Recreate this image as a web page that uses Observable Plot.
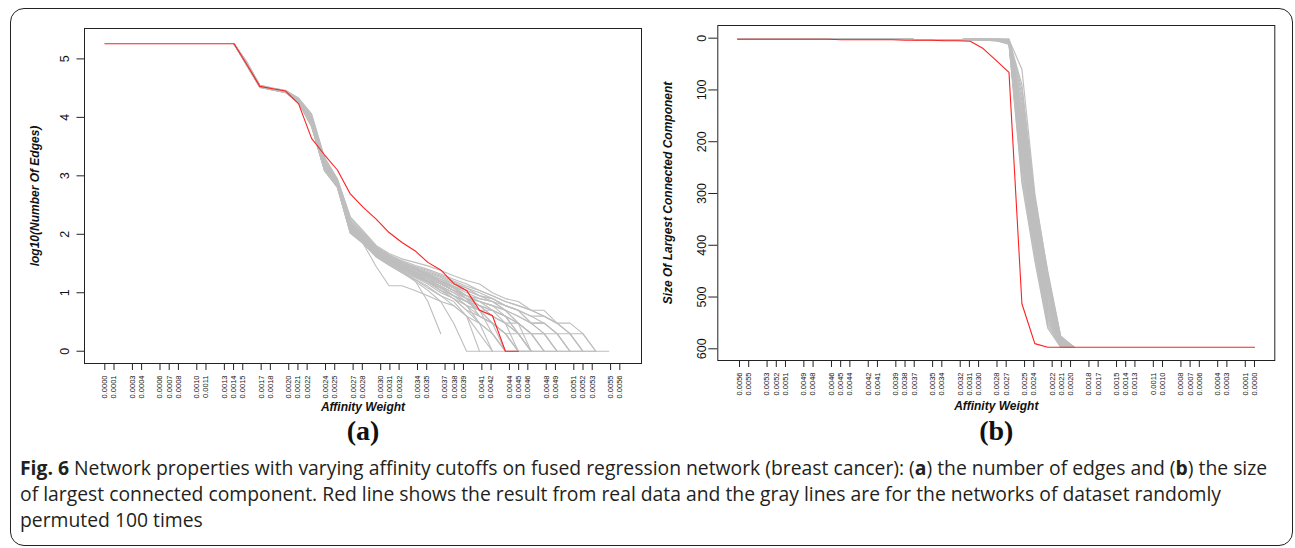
<!DOCTYPE html>
<html><head><meta charset="utf-8">
<script src="https://cdn.jsdelivr.net/npm/d3@7"></script>
<script src="https://cdn.jsdelivr.net/npm/@observablehq/plot@0.6"></script>
<style>
body{margin:0;background:#fff;}
#root{position:relative;width:1295px;height:548px;overflow:hidden;background:#fff;}
#border{position:absolute;left:10px;top:8px;width:1283px;height:538px;box-sizing:border-box;border:1.5px solid #222;border-radius:14px;}
#pa{position:absolute;left:0;top:0;}
#pb{position:absolute;left:633px;top:0;}
#cap{position:absolute;left:20px;top:455px;font-family:"Open Sans",sans-serif;font-size:16.5px;line-height:26px;color:#231f20;white-space:nowrap;}
#cap b{font-weight:700;}
</style></head>
<body>
<div id="root">
<div id="border"></div>
<div id="pa"></div>
<div id="pb"></div>
<div id="cap">
<div id="cap1"><span id="cap1s"><b>Fig. 6</b> Network properties with varying affinity cutoffs on fused regression network (breast cancer): (<b>a</b>) the number of edges and (<b>b</b>) the size</span></div>
<div>of largest connected component. Red line shows the result from real data and the gray lines are for the networks of dataset randomly</div>
<div>permuted 100 times</div>
</div>
</div>
<script>
// affinity cutoffs (x position of each vertex), index 0..40
const thresholds = [0, 0.0001405, 0.000281, 0.0004215, 0.000562, 0.0007025, 0.000843, 0.0009835, 0.001124, 0.0012645,
  0.001405, 0.0015455, 0.001686, 0.0018265, 0.001967, 0.0021075, 0.002248, 0.0023885, 0.002529, 0.0026695,
  0.00281, 0.0029505, 0.003091, 0.0032315, 0.003372, 0.0035125, 0.003653, 0.0037935, 0.003934, 0.0040745,
  0.004215, 0.0043555, 0.004496, 0.0046365, 0.004777, 0.0049175, 0.005058, 0.0051985, 0.005339, 0.0054795, 0.00562];

// x tick labels
const tickLabels = ["0.0000","0.0001","0.0003","0.0004","0.0006","0.0007","0.0008","0.0010","0.0011","0.0013",
  "0.0014","0.0015","0.0017","0.0018","0.0020","0.0021","0.0022","0.0024","0.0025","0.0027",
  "0.0028","0.0030","0.0031","0.0032","0.0034","0.0035","0.0037","0.0038","0.0039","0.0041",
  "0.0042","0.0044","0.0045","0.0046","0.0048","0.0049","0.0051","0.0052","0.0053","0.0055","0.0056"];

const yTicksA = [0, 1, 2, 3, 4, 5];
const yTicksB = [0, 100, 200, 300, 400, 500, 600];

// (a) log10(number of edges), real data, from threshold index 0
const redA = [5.26,5.26,5.26,5.26,5.26,5.26,5.26,5.26,5.26,5.26,5.26,4.90,4.53,4.49,4.45,4.23,3.64,3.36,3.10,2.69,
  2.46,2.26,2.03,1.86,1.72,1.52,1.39,1.16,1.04,0.70,0.61,0,0];

// (a) permuted networks, from threshold index 10 (identical flat 5.26 before)
const grayAStart = 10;
const grayA = [
  [5.26,4.95,4.55,4.50,4.46,4.33,4.06,3.32,2.95,2.30,2.06,1.81,1.67,1.58,1.52,1.46,1.38,1.29,1.21,1.15,1.00,0.90,0.85,0.70,0.70,0.48,0.48,0.30,0,0],
  [5.26,4.93,4.54,4.49,4.45,4.31,4.02,3.25,2.90,2.22,2.00,1.75,1.62,1.53,1.45,1.38,1.30,1.20,1.11,1.04,0.95,0.85,0.78,0.70,0.60,0.48,0.30,0,0],
  [5.26,4.92,4.53,4.48,4.44,4.29,3.98,3.20,2.88,2.15,1.95,1.72,1.60,1.50,1.42,1.34,1.26,1.15,1.08,0.95,0.90,0.78,0.70,0.48,0.48,0.30,0,0],
  [5.26,4.90,4.53,4.48,4.44,4.28,3.95,3.18,2.86,2.12,1.92,1.70,1.58,1.48,1.40,1.30,1.20,1.11,1.00,0.90,0.85,0.70,0.60,0.48,0.30,0,0],
  [5.26,4.91,4.52,4.47,4.43,4.27,3.92,3.15,2.85,2.10,1.90,1.68,1.55,1.45,1.36,1.28,1.18,1.08,0.95,0.85,0.78,0.70,0.48,0.30,0.30,0],
  [5.26,4.89,4.52,4.47,4.43,4.26,3.90,3.12,2.83,2.08,1.88,1.66,1.53,1.42,1.34,1.23,1.15,1.04,0.90,0.78,0.70,0.60,0.48,0,0],
  [5.26,4.90,4.53,4.48,4.44,4.27,3.88,3.10,2.82,2.05,1.86,1.65,1.52,1.40,1.30,1.20,1.11,1.00,0.85,0.78,0.60,0.48,0.30,0],
  [5.26,4.88,4.51,4.47,4.42,4.26,3.86,3.10,2.81,2.04,1.85,1.63,1.50,1.38,1.28,1.18,1.04,0.95,0.78,0.70,0.48,0.30,0,0],
  [5.26,4.89,4.52,4.48,4.43,4.25,3.85,3.09,2.80,2.02,1.84,1.62,1.48,1.36,1.26,1.15,1.00,0.90,0.70,0.60,0.48,0,0],
  [5.26,4.91,4.53,4.49,4.44,4.28,3.94,3.16,2.87,2.14,1.93,1.70,1.56,1.44,1.32,1.20,1.08,0.95,0.85,0.70,0.30,0,0],
  [5.26,4.92,4.54,4.49,4.45,4.30,3.99,3.22,2.89,2.18,1.96,1.74,1.60,1.47,1.36,1.26,1.15,1.04,0.90,0.60,0.48,0.30,0],
  [5.26,4.90,4.52,4.48,4.44,4.27,3.91,3.14,2.84,2.10,1.89,1.67,1.54,1.41,1.30,1.18,1.04,0.90,0.70,0.48,0,0],
  [5.26,4.89,4.52,4.47,4.43,4.26,3.89,3.12,2.83,2.06,1.87,1.64,1.50,1.36,1.23,1.08,0.95,0.78,0.60,0,0],
  [5.26,4.93,4.54,4.49,4.45,4.31,4.03,3.28,2.92,2.25,2.02,1.78,1.64,1.53,1.43,1.32,1.20,1.08,0.95,0.85,0.70,0.60,0.48,0.30,0,0],
  [5.26,4.94,4.55,4.50,4.46,4.32,4.05,3.30,2.94,2.28,2.04,1.79,1.65,1.55,1.47,1.40,1.32,1.23,1.15,1.04,0.95,0.85,0.78,0.70,0.60,0.48,0.30,0.30,0],
  [5.26,4.90,4.53,4.48,4.44,4.28,3.93,3.17,2.86,2.12,1.91,1.69,1.55,1.43,1.32,1.20,1.08,0.95,0.85,0.70,0.60,0.48,0.30,0.30,0],
  [5.26,4.89,4.52,4.47,4.43,4.26,3.88,3.11,2.82,2.04,1.84,1.45,1.12,1.12,1.04,0.95,0.85,0.78,0.60,0.48,0.30,0],
  [5.26,4.90,4.53,4.48,4.44,4.27,3.90,3.13,2.84,2.08,1.87,1.65,1.52,1.38,1.21,0.85,0.30],
  [5.26,4.89,4.52,4.47,4.43,4.25,3.86,3.10,2.81,2.03,1.85,1.62,1.48,1.34,1.20,1.04,0.85,0.48,0,0],
  [5.26,4.91,4.53,4.48,4.44,4.29,3.96,3.19,2.87,2.16,1.94,1.72,1.58,1.46,1.34,1.23,1.11,0.95,0.78,0.60,0.48,0.30,0,0],
  [5.26,4.92,4.54,4.49,4.45,4.30,4.00,3.24,2.90,2.20,1.98,1.76,1.63,1.52,1.44,1.36,1.28,1.18,1.08,1.00,0.90,0.78,0.70,0.60,0.48,0.30,0,0],
  [5.26,4.91,4.53,4.48,4.44,4.29,3.97,3.21,2.88,2.17,1.95,1.73,1.59,1.49,1.40,1.32,1.23,1.11,1.04,0.95,0.85,0.70,0.48,0.30,0,0],
  [5.26,4.90,4.52,4.48,4.43,4.27,3.92,3.15,2.85,2.11,1.90,1.68,1.55,1.44,1.34,1.26,1.15,1.04,0.95,0.85,0.78,0.60,0.30,0],
  [5.26,4.89,4.52,4.47,4.43,4.26,3.89,3.13,2.83,2.07,1.88,1.66,1.52,1.41,1.32,1.23,1.11,1.00,0.90,0.78,0.70,0.48,0,0],
  [5.26,4.93,4.54,4.49,4.45,4.31,4.01,3.26,2.91,2.23,2.01,1.77,1.63,1.51,1.41,1.32,1.23,1.15,1.04,0.95,0.90,0.78,0.70,0.60,0.60,0.48,0.30,0],
  [5.26,4.90,4.53,4.48,4.44,4.28,3.93,3.16,2.86,2.13,1.92,1.69,1.56,1.45,1.36,1.28,1.20,1.11,0.95,0.78,0.60,0.48,0.48,0.30,0.30,0,0],
  [5.26,4.91,4.53,4.48,4.44,4.28,3.95,3.19,2.87,2.15,1.93,1.71,1.57,1.46,1.38,1.30,1.18,1.08,0.90,0.70,0.70,0.60,0.30,0,0],
  [5.26,4.89,4.52,4.47,4.43,4.26,3.87,3.11,2.82,2.05,1.86,1.64,1.51,1.39,1.28,1.18,1.08,0.95,0.85,0.70,0.48,0.30,0.30,0],
  [5.26,4.92,4.54,4.49,4.45,4.30,3.98,3.23,2.89,2.19,1.97,1.74,1.61,1.50,1.40,1.30,1.18,1.04,0.90,0.85,0.78,0.70,0.60,0.48,0.30,0.30,0],
  [5.26,4.90,4.53,4.48,4.44,4.27,3.90,3.14,2.84,2.09,1.89,1.67,1.53,1.42,1.30,1.20,1.04,0.90,0.78,0.48,0.30,0],
  [5.26,4.91,4.53,4.49,4.44,4.29,3.96,3.18,2.86,2.14,1.92,1.70,1.57,1.46,1.36,1.26,1.15,1.04,0.95,0.90,0.85,0.78,0.70,0.48,0.48,0.30,0.30,0,0],
  [5.26,4.88,4.51,4.47,4.42,4.25,3.84,3.09,2.80,2.02,1.84,1.61,1.47,1.34,1.23,1.11,0.95,0.85,0.60,0.30,0]
];

// (b) size of largest connected component, real data, threshold index 0..40
const redB = [597,597,597,597,597,597,597,597,597,597,597,597,597,597,597,597,597,590,513,66,
  43,20,6,5,5,4,4,4,3,3,3,3,3,2,2,2,2,2,2,2,2];

// (b) permuted networks, threshold index 14..22, then a common tail for 23..40
const grayBStart = 14;
const grayB = [
  [597,597,560,430,280,12,5,4,3],
  [597,596,555,422,270,10,5,4,3],
  [597,596,550,415,262,9,5,4,3],
  [597,595,545,408,252,8,5,4,3],
  [597,595,541,402,243,7,4,3,3],
  [597,594,536,396,236,6,4,3,3],
  [597,594,532,391,228,6,4,3,3],
  [597,593,527,386,220,6,4,3,3],
  [597,592,521,381,212,5,4,3,3],
  [597,591,517,376,204,5,4,3,2],
  [597,590,512,371,196,5,4,3,2],
  [597,589,507,365,188,4,3,3,2],
  [597,588,501,360,181,4,3,3,2],
  [597,587,496,355,174,4,3,3,2],
  [597,585,490,349,166,4,3,3,2],
  [597,584,485,344,158,3,3,2,2],
  [597,582,480,339,150,3,3,2,2],
  [597,581,475,335,140,3,3,2,2],
  [597,580,470,331,131,3,3,2,2],
  [596,579,466,326,120,3,2,2,2],
  [596,578,461,320,110,3,2,2,2],
  [596,577,458,316,100,2,2,2,2],
  [596,575,450,309,90,2,2,2,2],
  [595,590,455,300,60,3,2,2,2],
  [597,592,520,390,240,7,4,3,3]
];
const grayBTail = [3,3,3,3,2,2,2,2,2,2,2,2,1,1,1,1,1,1];

// ---------- build rows ----------
const tickValues = tickLabels.map(Number);
function rows(values, start, id) {
  return values.map((v, j) => ({x: thresholds[start + j], y: v, id}));
}
const redARows = rows(redA, 0, "real");
const grayARows = grayA.flatMap((s, k) => rows(s, grayAStart, k));
const redBRows = rows(redB, 0, "real");
const grayBRows = grayB.flatMap((s, k) => rows(s.concat(grayBTail), grayBStart, k));

const font = "Liberation Sans, Arial, Helvetica, sans-serif";
const serif = "Liberation Serif, Times New Roman, serif";
const grayCol = "#bebebe", redCol = "#ff1f1f", ink = "#222";

const plotA = Plot.plot({
  width: 660, height: 460,
  marginLeft: 84, marginRight: 19, marginTop: 28, marginBottom: 97,
  x: {domain: [-0.000221, 0.005836]},
  y: {domain: [-0.21, 5.52]},
  style: {fontFamily: font, color: "#111", background: "transparent", overflow: "visible"},
  marks: [
    Plot.line(grayARows, {x: "x", y: "y", z: "id", stroke: grayCol, strokeWidth: 1.1}),
    Plot.line(redARows, {x: "x", y: "y", stroke: redCol, strokeWidth: 1.1}),
    Plot.frame({stroke: ink, strokeWidth: 1}),
    Plot.axisY({ticks: yTicksA, tickFormat: d => String(d), tickSize: 7.5, tickPadding: 8, tickRotate: -90, fontSize: 12.5, label: null, stroke: ink}),
    Plot.axisX({ticks: tickValues, tickFormat: d => d.toFixed(4), tickSize: 7, tickPadding: 5, tickRotate: -90, fontSize: 7.5, label: null, stroke: ink}),
    Plot.text(["Affinity Weight"], {text: d => d, frameAnchor: "bottom", dy: 47, fontWeight: "bold", fontStyle: "italic", fontSize: 12}),
    Plot.text(["log10(Number Of Edges)"], {text: d => d, frameAnchor: "left", textAnchor: "middle", dx: -49, rotate: -90, fontWeight: "bold", fontStyle: "italic", fontSize: 12}),
    Plot.text(["(a)"], {text: d => d, frameAnchor: "bottom", dy: 76, fontFamily: serif, fontWeight: "bold", fontSize: 28})
  ]
});
document.getElementById("pa").appendChild(plotA);

const plotB = Plot.plot({
  width: 660, height: 460,
  marginLeft: 84.3, marginRight: 18.7, marginTop: 25, marginBottom: 100,
  x: {domain: [0.005836, -0.000221]},
  y: {domain: [-24.5, 622.6], reverse: true},
  style: {fontFamily: font, color: "#111", background: "transparent", overflow: "visible"},
  marks: [
    Plot.line(grayBRows, {x: "x", y: "y", z: "id", stroke: grayCol, strokeWidth: 1.2}),
    Plot.line(redBRows, {x: "x", y: "y", stroke: redCol, strokeWidth: 1.1}),
    Plot.frame({stroke: ink, strokeWidth: 1}),
    Plot.axisY({ticks: yTicksB, tickFormat: d => String(d), tickSize: 9, tickPadding: 3, tickRotate: -90, fontSize: 12.5, label: null, stroke: ink}),
    Plot.axisX({ticks: tickValues, tickFormat: d => d.toFixed(4), tickSize: 7, tickPadding: 5, tickRotate: -90, fontSize: 7.5, label: null, stroke: ink}),
    Plot.text(["Affinity Weight"], {text: d => d, frameAnchor: "bottom", dy: 49, fontWeight: "bold", fontStyle: "italic", fontSize: 12}),
    Plot.text(["Size Of Largest Connected Component"], {text: d => d, frameAnchor: "left", textAnchor: "middle", dx: -50, rotate: -90, fontWeight: "bold", fontStyle: "italic", fontSize: 12}),
    Plot.text(["(b)"], {text: d => d, frameAnchor: "bottom", dy: 79, fontFamily: serif, fontWeight: "bold", fontSize: 28})
  ]
});
document.getElementById("pb").appendChild(plotB);

// fit the caption's first line to the width it has in the figure
const cap = document.getElementById("cap");
const w = document.getElementById("cap1s").getBoundingClientRect().width;
const target = 1248;
cap.style.fontSize = (16.5 * target / w).toFixed(2) + "px";
</script>
</body></html>
